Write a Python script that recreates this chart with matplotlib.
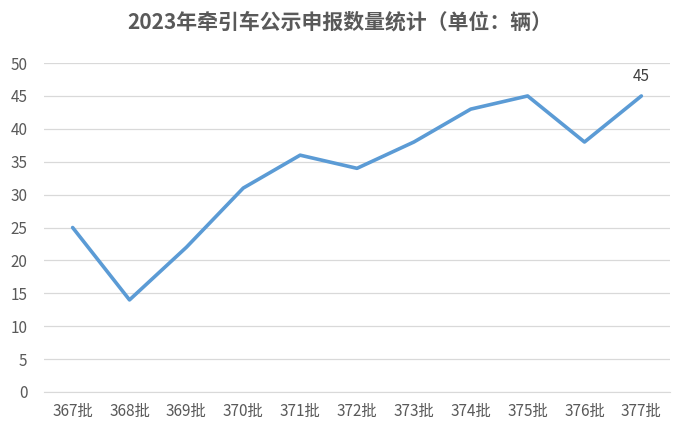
import matplotlib
matplotlib.use("Agg")
import matplotlib.pyplot as plt

plt.rcParams["font.family"] = ["Noto Sans CJK SC", "DejaVu Sans"]

batches = ["367批", "368批", "369批", "370批", "371批", "372批",
           "373批", "374批", "375批", "376批", "377批"]
counts = [25, 14, 22, 31, 36, 34, 38, 43, 45, 38, 45]
y_ticks = list(range(0, 51, 5))

fig = plt.figure(figsize=(6.8, 4.32), dpi=100)
ax = fig.add_axes([0.065, 0.0926, 0.92, 0.7614])

x = list(range(len(batches)))
ax.plot(x, counts, color="#5B9BD5", linewidth=2.6, solid_capstyle="round",
        solid_joinstyle="round", zorder=3)
ax.annotate(str(counts[-1]), (x[-1], counts[-1]), xytext=(0, 8),
            textcoords="offset points", ha="center", va="bottom",
            fontsize=11, color="#404040")

ax.set_xlim(-0.5, len(batches) - 0.5)
ax.set_ylim(0, 50)
ax.set_yticks(y_ticks)
ax.set_xticks(x)
ax.set_xticklabels(batches)
ax.grid(axis="y", color="#D9D9D9", linewidth=0.9)
ax.set_axisbelow(True)
for side in ["top", "right", "left"]:
    ax.spines[side].set_visible(False)
ax.spines["bottom"].set_color("#D9D9D9")
ax.tick_params(axis="both", length=0, labelsize=11, colors="#595959", pad=8)
ax.tick_params(axis="y", pad=12)

fig.text(0.5, 0.95, "2023年牵引车公示申报数量统计（单位：辆）", ha="center",
         va="center", fontsize=15, fontweight="bold", color="#595959")

fig.savefig("out.png", dpi=100)
